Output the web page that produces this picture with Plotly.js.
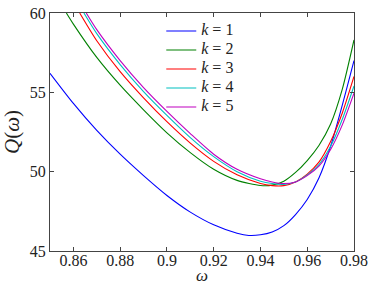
<!DOCTYPE html>
<html>
<head>
<meta charset="utf-8">
<script src="https://cdn.plot.ly/plotly-3.0.1.min.js"></script>
<style>html,body{margin:0;padding:0;background:#fff;}#chart{width:374px;height:285px;}</style>
</head>
<body>
<div id="chart"></div>
<script>
// Data
var seriesNames = ["k = 1", "k = 2", "k = 3", "k = 4", "k = 5"];

var omegaK1 = [0.85, 0.86, 0.87, 0.88, 0.89, 0.90, 0.91, 0.92, 0.93, 0.935, 0.94, 0.945, 0.95, 0.955, 0.96, 0.965, 0.97, 0.975, 0.98];
var qK1     = [56.2, 54.3, 52.6, 51.1, 49.75, 48.5, 47.45, 46.65, 46.12, 45.98, 46.02, 46.2, 46.6, 47.3, 48.25, 49.6, 51.6, 54.2, 57.0];

var omegaK2 = [0.857, 0.86, 0.87, 0.88, 0.89, 0.90, 0.91, 0.92, 0.93, 0.94, 0.945, 0.95, 0.955, 0.96, 0.965, 0.97, 0.975, 0.98];
var qK2     = [60.0, 59.3, 57.2, 55.45, 53.9, 52.45, 51.2, 50.15, 49.45, 49.13, 49.15, 49.4, 49.95, 50.7, 51.65, 53.0, 55.2, 58.3];

var omegaK3 = [0.8627, 0.87, 0.88, 0.89, 0.90, 0.91, 0.92, 0.93, 0.94, 0.945, 0.95, 0.955, 0.96, 0.965, 0.97, 0.975, 0.98];
var qK3     = [60.0, 58.25, 56.3, 54.65, 53.15, 51.8, 50.65, 49.8, 49.25, 49.12, 49.12, 49.35, 49.85, 50.6, 51.9, 53.7, 56.0];

var omegaK4 = [0.8645, 0.87, 0.88, 0.89, 0.90, 0.91, 0.92, 0.93, 0.94, 0.945, 0.95, 0.955, 0.96, 0.965, 0.97, 0.975, 0.98];
var qK4     = [60.0, 58.7, 56.75, 55.05, 53.55, 52.15, 50.95, 50.0, 49.4, 49.25, 49.2, 49.35, 49.8, 50.45, 51.6, 53.3, 55.4];

var omegaK5 = [0.8655, 0.87, 0.88, 0.89, 0.90, 0.91, 0.92, 0.93, 0.94, 0.945, 0.95, 0.955, 0.96, 0.965, 0.97, 0.975, 0.98];
var qK5     = [60.0, 58.95, 57.0, 55.3, 53.8, 52.4, 51.1, 50.15, 49.55, 49.35, 49.25, 49.35, 49.75, 50.35, 51.4, 52.95, 54.95];

var xTickVals = [0.86, 0.88, 0.90, 0.92, 0.94, 0.96, 0.98];
var xTickText = ["0.86", "0.88", "0.9", "0.92", "0.94", "0.96", "0.98"];
var yTickVals = [45, 50, 55, 60];
var yTickText = ["45", "50", "55", "60"];

var colors = ["#0000ff", "#008000", "#ff0000", "#00bfbf", "#bf00bf"];
var xs = [omegaK1, omegaK2, omegaK3, omegaK4, omegaK5];
var ys = [qK1, qK2, qK3, qK4, qK5];

var serif = "Liberation Serif";

function legendLabel(name) {
  var parts = name.split(" = ");
  return "<span style='font-size:16px'><i>" + parts[0] + "</i> = " + parts[1] + "</span>";
}

var traces = [];
for (var i = 0; i < 5; i++) {
  traces.push({
    x: xs[i], y: ys[i], type: "scatter", mode: "lines",
    name: legendLabel(seriesNames[i]),
    line: {color: colors[i], width: 1.1, shape: "spline", smoothing: 0.7}
  });
}

var axisCommon = {
  showgrid: false, zeroline: false, showline: true, mirror: "ticks",
  linecolor: "#444", linewidth: 1, ticks: "inside", ticklen: 4, tickcolor: "#444",
  tickfont: {family: serif, size: 16, color: "#222"}
};

var layout = {
  width: 374, height: 285,
  margin: {l: 50, r: 20, t: 13, b: 34},
  paper_bgcolor: "#fff", plot_bgcolor: "#fff",
  font: {family: serif},
  showlegend: true,
  legend: {x: 0.366, y: 0.985, xanchor: "left", yanchor: "top",
    bgcolor: "rgba(0,0,0,0)", borderwidth: 0,
    font: {family: serif, size: 10, color: "#222"}},
  xaxis: Object.assign({}, axisCommon, {
    range: [0.85, 0.98], tickvals: xTickVals, ticktext: xTickText,
    ticklabelstandoff: -5,
    title: {text: "<i>\u03c9</i>", font: {family: serif, size: 17, color: "#222"}, standoff: 2}
  }),
  yaxis: Object.assign({}, axisCommon, {
    range: [45, 60], tickvals: yTickVals, ticktext: yTickText,
    title: {text: "<i>Q</i>(<i>\u03c9</i>)", font: {family: serif, size: 21, color: "#222"}, standoff: 6}
  })
};

Plotly.newPlot("chart", traces, layout, {displayModeBar: false, staticPlot: true});
</script>
</body>
</html>
